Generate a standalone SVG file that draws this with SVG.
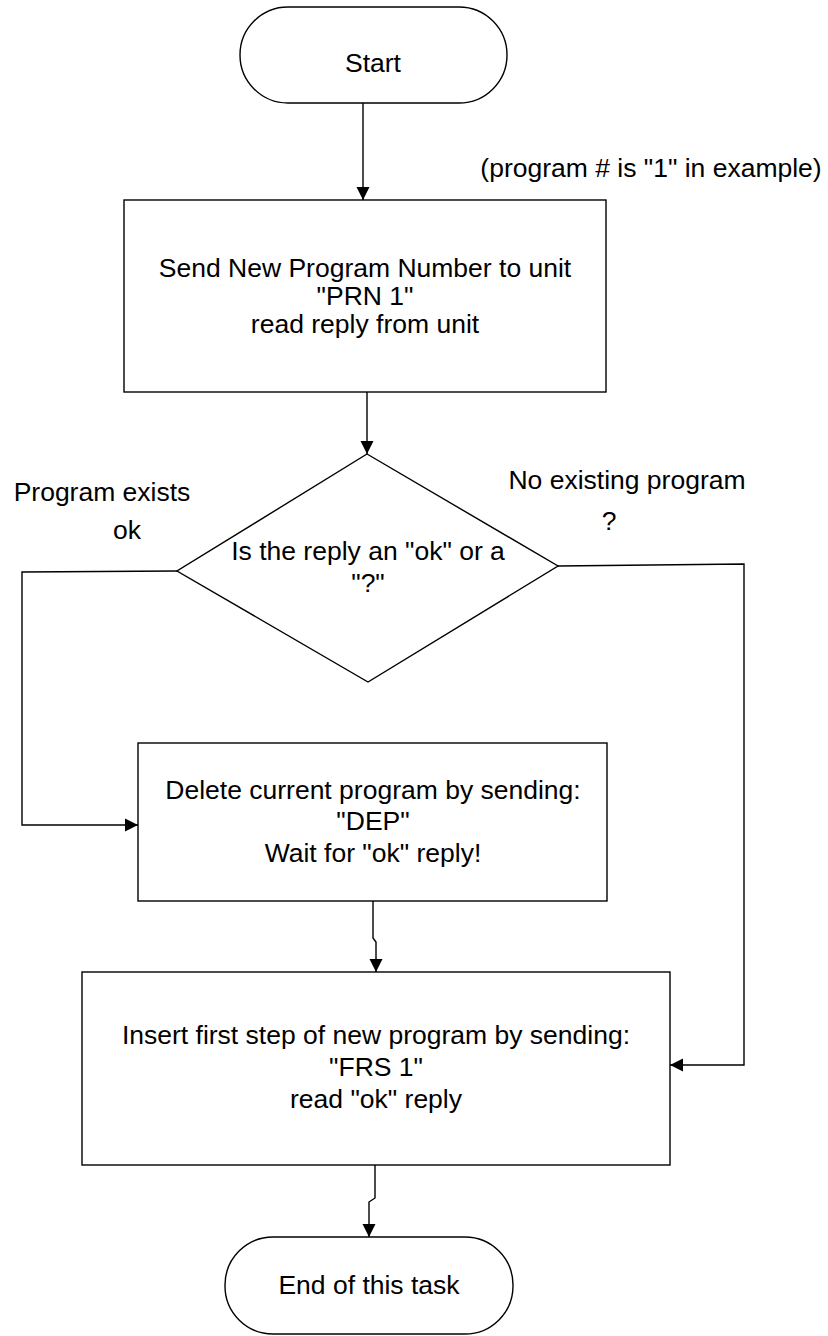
<svg xmlns="http://www.w3.org/2000/svg" width="828" height="1336" viewBox="0 0 828 1336">
<defs>
<style>
.shape{fill:#ffffff;stroke:#000000;stroke-width:1.4}
.conn{fill:none;stroke:#000000;stroke-width:1.4}
text{font-family:"Liberation Sans",Arial,sans-serif;font-size:26.5px;fill:#000000;text-anchor:middle}
</style>
<marker id="arr" markerUnits="userSpaceOnUse" markerWidth="14" markerHeight="14" viewBox="0 0 14 14" refX="13" refY="7" orient="auto">
<path d="M0,0.5 L13,7 L0,13.5 z" fill="#000000"/>
</marker>
</defs>
<rect width="828" height="1336" fill="#ffffff"/>
<g id="connectors">
<path class="conn" d="M363,103 L363,200" marker-end="url(#arr)"/>
<path class="conn" d="M367,392 L367,454" marker-end="url(#arr)"/>
<path class="conn" d="M177,571 L22,572 L22,825 L138,825" marker-end="url(#arr)"/>
<path class="conn" d="M558,566 L744,564 L744,1065 L670,1065" marker-end="url(#arr)"/>
<path class="conn" d="M373,901 L373,938 L376,942 L376,972" marker-end="url(#arr)"/>
<path class="conn" d="M375,1165 L375,1198 L369,1202 L369,1237" marker-end="url(#arr)"/>
</g>
<g id="start">
<rect class="shape" x="240" y="7" width="267" height="96" rx="48" ry="48"/>
<text x="373" y="72">Start</text>
</g>
<g id="note">
<text x="651" y="177">(program # is "1" in example)</text>
</g>
<g id="send">
<rect class="shape" x="124" y="200" width="482" height="192"/>
<text x="365" y="277">Send New Program Number to unit</text>
<text x="365" y="305">"PRN 1"</text>
<text x="365" y="333">read reply from unit</text>
</g>
<g id="decision">
<polygon class="shape" points="367,454 558,566 368,682 177,571"/>
<text x="368" y="560">Is the reply an "ok" or a</text>
<text x="368" y="592">"?"</text>
</g>
<g id="label-ok">
<text x="102" y="501">Program exists</text>
<text x="127" y="539">ok</text>
</g>
<g id="label-no">
<text x="627" y="489">No existing program</text>
<text x="609" y="530">?</text>
</g>
<g id="delete">
<rect class="shape" x="138" y="743" width="469" height="158"/>
<text x="373" y="799">Delete current program by sending:</text>
<text x="373" y="830">"DEP"</text>
<text x="373" y="862">Wait for "ok" reply!</text>
</g>
<g id="insert">
<rect class="shape" x="82" y="972" width="588" height="193"/>
<text x="376" y="1044">Insert first step of new program by sending:</text>
<text x="376" y="1076">"FRS 1"</text>
<text x="376" y="1108">read "ok" reply</text>
</g>
<g id="end">
<rect class="shape" x="225" y="1237" width="288" height="97" rx="48" ry="48"/>
<text x="369" y="1294">End of this task</text>
</g>
</svg>
